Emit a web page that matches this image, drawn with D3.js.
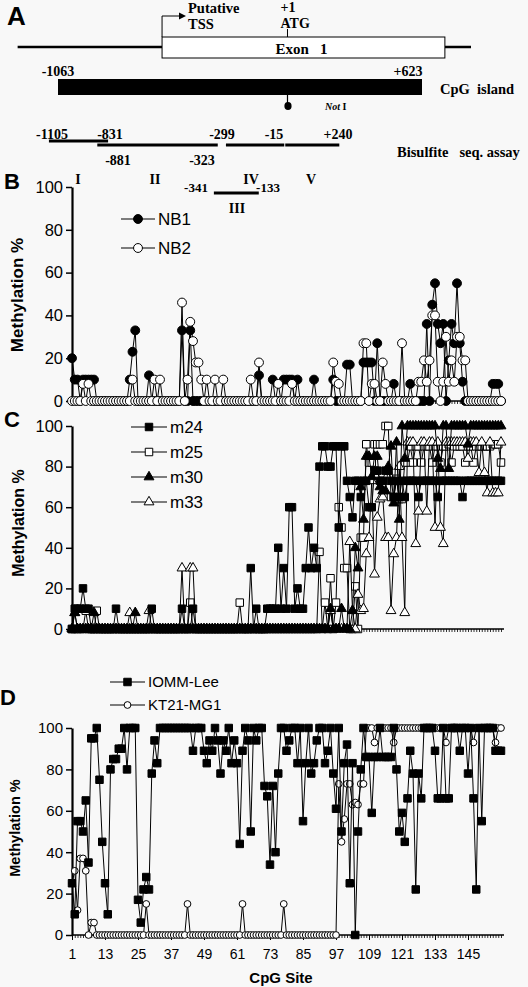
<!DOCTYPE html>
<html><head><meta charset="utf-8">
<script src="https://cdn.jsdelivr.net/npm/d3@7/dist/d3.min.js"></script>
<style>body{margin:0;background:#f8f8f8} svg{display:block}</style>
</head><body><svg id="c" width="528" height="987"></svg>
<script>
// ---------------- DATA ----------------
const sites = d3.range(1, 158); // CpG sites 1..157
const yTicks = [0, 20, 40, 60, 80, 100];
const dTickSites = [1, 13, 25, 37, 49, 61, 73, 85, 97, 109, 121, 133, 145];

// Panel B
const nb1 = [
 20,10,10,0,10,10,10,10,10,0,
 0,0,0,0,0,0,0,0,0,0,
 0,10,23,33,0,0,0,0,12,0,
 0,0,0,0,0,0,0,0,0,0,
 33,0,0,33,0,0,0,0,0,0,
 0,0,0,0,0,0,0,0,0,0,
 0,0,0,0,0,0,0,0,12,0,
 0,0,0,10,0,0,0,10,10,10,
 10,0,10,0,0,0,0,0,10,0,
 0,0,0,0,0,10,0,0,0,0,
 17,17,0,0,0,0,18,18,18,18,
 0,27,0,0,0,0,0,8,0,0,
 0,0,0,8,0,0,0,0,0,36,
 0,45,55,36,27,36,0,19,36,27,
 55,27,9,0,0,0,0,0,0,0,
 0,0,0,8,8,8,0];
const nb2 = [
 0,0,0,0,8,0,8,0,0,0,
 0,0,0,0,0,0,0,0,0,0,
 0,0,10,0,0,0,0,0,0,0,
 10,0,10,0,0,0,0,0,0,0,
 46,0,10,37,28,18,18,10,0,10,
 0,0,10,0,0,10,0,0,0,0,
 0,0,0,0,0,10,0,0,18,0,
 0,0,0,0,0,8,0,0,0,0,
 8,0,0,0,0,0,0,0,0,0,
 0,0,0,0,0,18,9,8,0,0,
 0,0,0,0,0,0,27,27,0,8,
 8,0,0,18,8,0,0,0,0,0,
 27,0,0,0,0,0,9,9,19,9,
 19,40,40,9,0,9,30,9,19,9,
 30,30,19,19,0,0,0,0,0,0,
 0,0,0,0,0,0,0];

// Panel C
const m24 = [
 0,10,10,10,20,10,10,0,0,0,
 0,0,0,0,0,0,10,0,0,0,
 0,0,0,0,0,0,0,0,0,10,
 0,0,0,0,0,0,0,0,0,0,
 10,0,0,0,10,0,0,0,0,0,
 0,0,0,0,0,0,0,0,0,0,
 0,0,0,0,0,30,0,10,0,0,
 0,10,10,10,10,40,10,30,10,60,
 60,10,20,10,10,30,50,30,40,30,
 80,90,90,80,80,90,90,50,90,90,
 73,65,55,73,73,65,73,73,60,60,
 78,78,73,73,78,78,73,65,73,65,
 73,65,73,73,73,73,65,73,73,73,
 73,73,73,65,73,73,73,73,73,73,
 73,73,65,73,73,73,73,73,73,73,
 73,73,73,73,73,73,73];
const m25 = [
 0,0,0,0,0,9,0,0,0,9,
 0,0,0,0,0,0,0,0,0,0,
 0,0,0,0,0,0,0,0,0,0,
 0,0,0,0,0,0,0,0,0,0,
 0,0,0,13,0,0,0,0,0,0,
 0,0,0,0,0,0,0,0,0,0,
 0,13,0,0,0,0,0,0,0,0,
 0,0,0,0,0,0,0,0,0,0,
 0,0,0,0,0,0,0,0,0,0,
 38,0,13,0,25,0,13,60,50,30,
 30,0,0,21,0,45,45,91,82,82,
 91,91,91,91,100,100,65,65,74,64,
 64,82,82,90,82,90,90,82,90,90,
 90,82,90,90,82,90,90,91,82,90,
 90,90,90,82,90,90,82,90,90,90,
 90,90,90,91,91,91,82];
const m30 = [
 0,8,0,0,0,0,0,0,8,0,
 0,0,0,0,0,0,0,0,0,0,
 0,0,0,8,0,0,0,0,0,0,
 0,0,0,0,0,0,0,0,0,0,
 0,0,0,0,0,0,0,0,0,0,
 0,0,0,0,0,0,0,0,0,0,
 0,0,0,0,0,0,0,0,0,0,
 0,0,0,0,0,0,0,0,0,0,
 0,0,0,0,0,0,0,0,0,0,
 0,0,0,0,10,0,0,0,10,0,
 0,0,9,40,30,70,54,85,85,75,
 85,85,70,68,68,80,90,62,92,54,
 100,84,100,100,100,100,100,100,100,100,
 100,100,100,84,79,100,100,79,100,100,
 100,100,100,100,91,100,100,100,100,100,
 100,100,100,100,100,100,100];
const m33 = [
 0,8,0,0,0,0,0,0,0,0,
 0,0,0,0,0,0,0,0,0,0,
 0,8,0,0,0,0,0,0,9,0,
 0,0,0,0,0,0,0,0,0,0,
 30,0,0,30,30,0,0,0,0,0,
 0,0,0,0,0,0,0,0,0,0,
 0,0,0,0,0,0,0,0,0,0,
 0,0,0,0,0,0,0,0,0,0,
 0,0,0,0,0,0,0,0,0,0,
 0,0,0,0,9,0,0,0,0,0,
 0,43,9,0,17,9,10,37,45,73,
 27,55,64,65,45,45,9,37,45,80,
 45,8,92,92,92,42,58,92,92,58,
 92,92,50,92,50,42,92,92,92,92,
 92,92,92,92,84,92,92,92,77,92,
 77,67,92,67,67,67,92];

// Panel D
const iommLee = [
 25,10,55,55,50,65,35,95,95,100,
 75,45,25,10,80,85,85,90,90,100,
 80,100,100,100,17,6,22,28,22,78,
 94,83,100,100,100,100,100,100,100,100,
 100,100,100,100,89,100,100,100,89,83,
 94,89,100,94,78,94,89,100,83,94,
 83,44,89,100,94,50,100,94,100,100,
 72,67,34,72,40,78,100,100,89,94,
 100,100,83,100,55,83,100,78,83,94,
 100,100,83,89,100,78,61,100,50,83,
 92,25,83,0,50,80,100,86,86,59,
 86,86,100,86,86,86,86,100,80,50,
 59,45,66,89,78,22,78,66,100,100,
 100,100,89,66,66,100,66,66,100,100,
 100,89,100,100,78,100,66,22,100,55,
 100,100,100,100,89,89,89];
const kt21 = [
 25,31,12,37,37,31,0,6,6,0,
 0,0,0,0,0,0,0,0,0,0,
 0,0,0,0,0,0,0,15,0,0,
 0,0,0,0,0,0,0,0,0,0,
 0,0,15,0,0,0,0,0,0,0,
 0,0,0,0,0,0,0,0,0,0,
 0,0,15,0,0,0,0,0,0,0,
 0,0,0,0,0,0,0,15,0,0,
 0,0,0,0,0,0,0,0,0,0,
 0,0,0,0,0,0,0,73,45,56,
 73,73,63,64,63,73,73,100,100,100,
 93,100,100,100,100,100,100,93,100,100,
 100,100,100,100,100,100,100,100,100,100,
 100,100,100,100,100,100,93,100,100,100,
 100,100,100,100,100,100,93,100,100,100,
 100,100,100,100,93,100,100];

// Panel A gene map (bp relative to ATG)
const cpgIsland = [-1063, 623];
const exon1 = [-581, 729];
const geneLine = [-1250, 850];
const assayNames = ["I", "II", "III", "IV", "V"];
const assayStart = [-1105, -881, -341, -299, -15];
const assayEnd = [-831, -323, -133, -15, 240];

// ---------------- DRAW ----------------
const svg = d3.select("#c");
svg.append("rect").attr("width", 528).attr("height", 987).attr("fill", "#f8f8f8");
const SANS = "'Liberation Sans', Arial, sans-serif";
const SERIF = "'Liberation Serif', 'Times New Roman', serif";

function txt(x, y, s, o = {}) {
  return svg.append("text").attr("x", x).attr("y", y).text(s)
    .attr("font-family", o.ff || SERIF).attr("font-weight", o.fw || "bold")
    .attr("font-size", o.fs || 14).attr("text-anchor", o.anchor || "start")
    .attr("font-style", o.fi || "normal").attr("fill", "#000")
    .style("white-space", "pre");
}

// ---- Panel A ----
const bp = d3.scaleLinear().domain(cpgIsland).range([58, 422]);
txt(7, 25, "A", { ff: SANS, fs: 26 });
svg.append("line").attr("x1", bp(geneLine[0])).attr("x2", bp(exon1[0])).attr("y1", 47).attr("y2", 47).attr("stroke", "#000").attr("stroke-width", 2.5);
svg.append("line").attr("x1", bp(exon1[1])).attr("x2", bp(geneLine[1])).attr("y1", 47).attr("y2", 47).attr("stroke", "#000").attr("stroke-width", 2.5);
svg.append("rect").attr("x", bp(exon1[0])).attr("y", 37).attr("width", bp(exon1[1]) - bp(exon1[0])).attr("height", 21)
  .attr("fill", "#fff").attr("stroke", "#000").attr("stroke-width", 1);
txt((bp(exon1[0]) + bp(exon1[1])) / 2 - 2, 54, "Exon   1", { fs: 15, anchor: "middle" });
// TSS arrow
const tx = bp(exon1[0]);
svg.append("path").attr("d", `M${tx},37V16H181`).attr("fill", "none").attr("stroke", "#000").attr("stroke-width", 1);
svg.append("path").attr("d", `M186,16L179,12.5L179,19.5Z`).attr("fill", "#000");
txt(188, 13, "Putative", { fs: 14.5 });
txt(188, 29, "TSS", { fs: 14.5 });
// ATG
svg.append("line").attr("x1", bp(0)).attr("x2", bp(0)).attr("y1", 29).attr("y2", 37).attr("stroke", "#000");
txt(bp(0) - 7, 12, "+1", { fs: 14 });
txt(bp(0) - 7, 28, "ATG", { fs: 14 });
// CpG island
svg.append("rect").attr("x", bp(cpgIsland[0])).attr("y", 79).attr("width", bp(cpgIsland[1]) - bp(cpgIsland[0])).attr("height", 16).attr("fill", "#000");
txt(bp(cpgIsland[0]), 76, "-1063", { fs: 14, anchor: "middle" });
txt(bp(cpgIsland[1]) - 14, 76, "+623", { fs: 14, anchor: "middle" });
txt(440, 94, "CpG  island", { fs: 14.5 });
// NotI
svg.append("line").attr("x1", bp(0)).attr("x2", bp(0)).attr("y1", 95).attr("y2", 103).attr("stroke", "#000").attr("stroke-width", 1.2);
svg.append("ellipse").attr("cx", bp(0) + 0.5).attr("cy", 106).attr("rx", 3.6).attr("ry", 4).attr("fill", "#000");
const notT = txt(325, 110, "", { fs: 10 });
notT.append("tspan").attr("font-style", "italic").text("Not");
notT.append("tspan").text(" I");
// bisulfite assays
const assayY = [141, 145, 193, 145, 145];
assayNames.forEach((n, i) => {
  const gap = (i === 3) ? 3 : (i === 4 ? 1 : 0);
  svg.append("line").attr("x1", bp(assayStart[i]) + gap).attr("x2", bp(assayEnd[i])).attr("y1", assayY[i]).attr("y2", assayY[i])
    .attr("stroke", "#000").attr("stroke-width", 3);
});
txt(52, 139, "-1105", { fs: 14, anchor: "middle" });
txt(110, 139, "-831", { fs: 14, anchor: "middle" });
txt(222, 139, "-299", { fs: 14, anchor: "middle" });
txt(274, 139, "-15", { fs: 14, anchor: "middle" });
txt(338, 139, "+240", { fs: 14, anchor: "middle" });
txt(118, 165, "-881", { fs: 14, anchor: "middle" });
txt(202, 165, "-323", { fs: 14, anchor: "middle" });
txt(397, 157, "Bisulfite   seq. assay", { fs: 14.5 });
const numX = [78, 155, 237, 251, 311];
const numY = [184, 184, 213, 184, 184];
assayNames.forEach((n, i) => txt(numX[i], numY[i], n, { fs: 14, anchor: "middle" }));
txt(196, 192, "-341", { fs: 13, anchor: "middle" });
txt(268, 192, "-133", { fs: 13, anchor: "middle" });

// ---- data panels ----
const x = d3.scaleLinear().domain([1, 157]).range([72, 501]);

function panel(cfg) {
  const y = d3.scaleLinear().domain([0, 100]).range(cfg.yRange);
  const g = svg.append("g");
  // x axis
  const xa = g.append("g").attr("transform", `translate(0,${cfg.yRange[0]})`)
    .call(d3.axisBottom(x).tickValues(sites).tickSize(3).tickSizeOuter(0).tickFormat(""));
  xa.select(".domain").remove();
  xa.selectAll("line").attr("stroke", "#000").attr("stroke-width", 0.8);
  g.append("line").attr("x1", 72).attr("x2", 504).attr("y1", cfg.yRange[0]).attr("y2", cfg.yRange[0]).attr("stroke", "#000").attr("stroke-width", 1.5);
  if (cfg.xLabels) {
    const xl = g.append("g").attr("transform", `translate(0,${cfg.yRange[0]})`)
      .call(d3.axisBottom(x).tickValues(dTickSites).tickSize(5).tickPadding(9).tickSizeOuter(0));
    xl.select(".domain").remove();
    xl.selectAll("text").attr("font-family", SANS).attr("font-size", 14).attr("fill", "#000");
    xl.selectAll("line").attr("stroke", "#000");
    txt(281, 983, "CpG Site", { ff: SANS, fs: 15, anchor: "middle" });
  }
  // y axis
  const ya = g.append("g").attr("transform", "translate(72,0)")
    .call(d3.axisLeft(y).tickValues(yTicks).tickSize(6).tickPadding(3).tickSizeOuter(0));
  ya.select(".domain").attr("stroke-width", 2.2).attr("stroke", "#000");
  ya.selectAll("line").attr("stroke", "#000").attr("stroke-width", 1.5);
  ya.selectAll("text").attr("font-family", SANS).attr("font-size", cfg.tickFs).attr("fill", "#000");
  // y label
  svg.append("text").attr("transform", `translate(${cfg.ylab[0]},${cfg.ylab[1]}) rotate(-90)`)
    .attr("text-anchor", "middle").attr("font-family", SANS).attr("font-weight", "bold")
    .attr("font-size", cfg.ylab[2]).text("Methylation %");
  // panel letter
  txt(cfg.letter[1], cfg.letter[2], cfg.letter[0], { ff: SANS, fs: 22 });
  // series (drawn in drawOrder)
  const order = cfg.drawOrder || cfg.series.map((s, i) => i);
  order.forEach(k => {
    const s = cfg.series[k];
    const line = d3.line().x((d, i) => x(sites[i])).y(d => y(d));
    g.append("path").datum(s.values).attr("d", line).attr("fill", "none").attr("stroke", "#000").attr("stroke-width", 1);
    const sym = d3.symbol(s.type, s.size)();
    g.append("g").selectAll("path").data(s.values).join("path")
      .attr("transform", (d, i) => `translate(${x(sites[i])},${y(d)})`)
      .attr("d", sym).attr("fill", s.fill).attr("stroke", "#000").attr("stroke-width", 1);
  });
  // legend
  cfg.series.forEach((s, k) => {
    const sym = d3.symbol(s.type, s.size)();
    const ly = cfg.legend.y[k];
    svg.append("line").attr("x1", cfg.legend.x0).attr("x2", cfg.legend.x1).attr("y1", ly).attr("y2", ly).attr("stroke", "#000");
    svg.append("path").attr("transform", `translate(${(cfg.legend.x0 + cfg.legend.x1) / 2},${ly})`)
      .attr("d", sym).attr("fill", s.fill).attr("stroke", "#000");
    txt(cfg.legend.x1 + 3, ly + cfg.legend.fs * 0.36, s.name, { ff: SANS, fw: "normal", fs: cfg.legend.fs });
  });
}

panel({
  yRange: [401, 187], tickFs: 16.5, ylab: [23, 295, 17], letter: ["B", 4, 189],
  legend: { x0: 121, x1: 155, y: [219, 248], fs: 17 },
  series: [
    { name: "NB1", values: nb1, type: d3.symbolCircle, size: 62, fill: "#000" },
    { name: "NB2", values: nb2, type: d3.symbolCircle, size: 62, fill: "#fff" }
  ]
});
panel({
  yRange: [629, 426], tickFs: 16.5, ylab: [24, 523, 16], letter: ["C", 4, 427],
  legend: { x0: 131, x1: 167, y: [427, 452, 477, 502], fs: 17 },
  drawOrder: [1, 3, 0, 2],
  series: [
    { name: "m24", values: m24, type: d3.symbolSquare, size: 56, fill: "#000" },
    { name: "m25", values: m25, type: d3.symbolSquare, size: 56, fill: "#fff" },
    { name: "m30", values: m30, type: d3.symbolTriangle, size: 42, fill: "#000" },
    { name: "m33", values: m33, type: d3.symbolTriangle, size: 42, fill: "#fff" }
  ]
});
panel({
  yRange: [935, 728], tickFs: 15, ylab: [20, 828, 14.5], letter: ["D", 0, 705],
  xLabels: true,
  legend: { x0: 110, x1: 145, y: [682, 705], fs: 15 },
  drawOrder: [1, 0],
  series: [
    { name: "IOMM-Lee", values: iommLee, type: d3.symbolSquare, size: 56, fill: "#000" },
    { name: "KT21-MG1", values: kt21, type: d3.symbolCircle, size: 36, fill: "#fff" }
  ]
});
</script>
</body></html>
